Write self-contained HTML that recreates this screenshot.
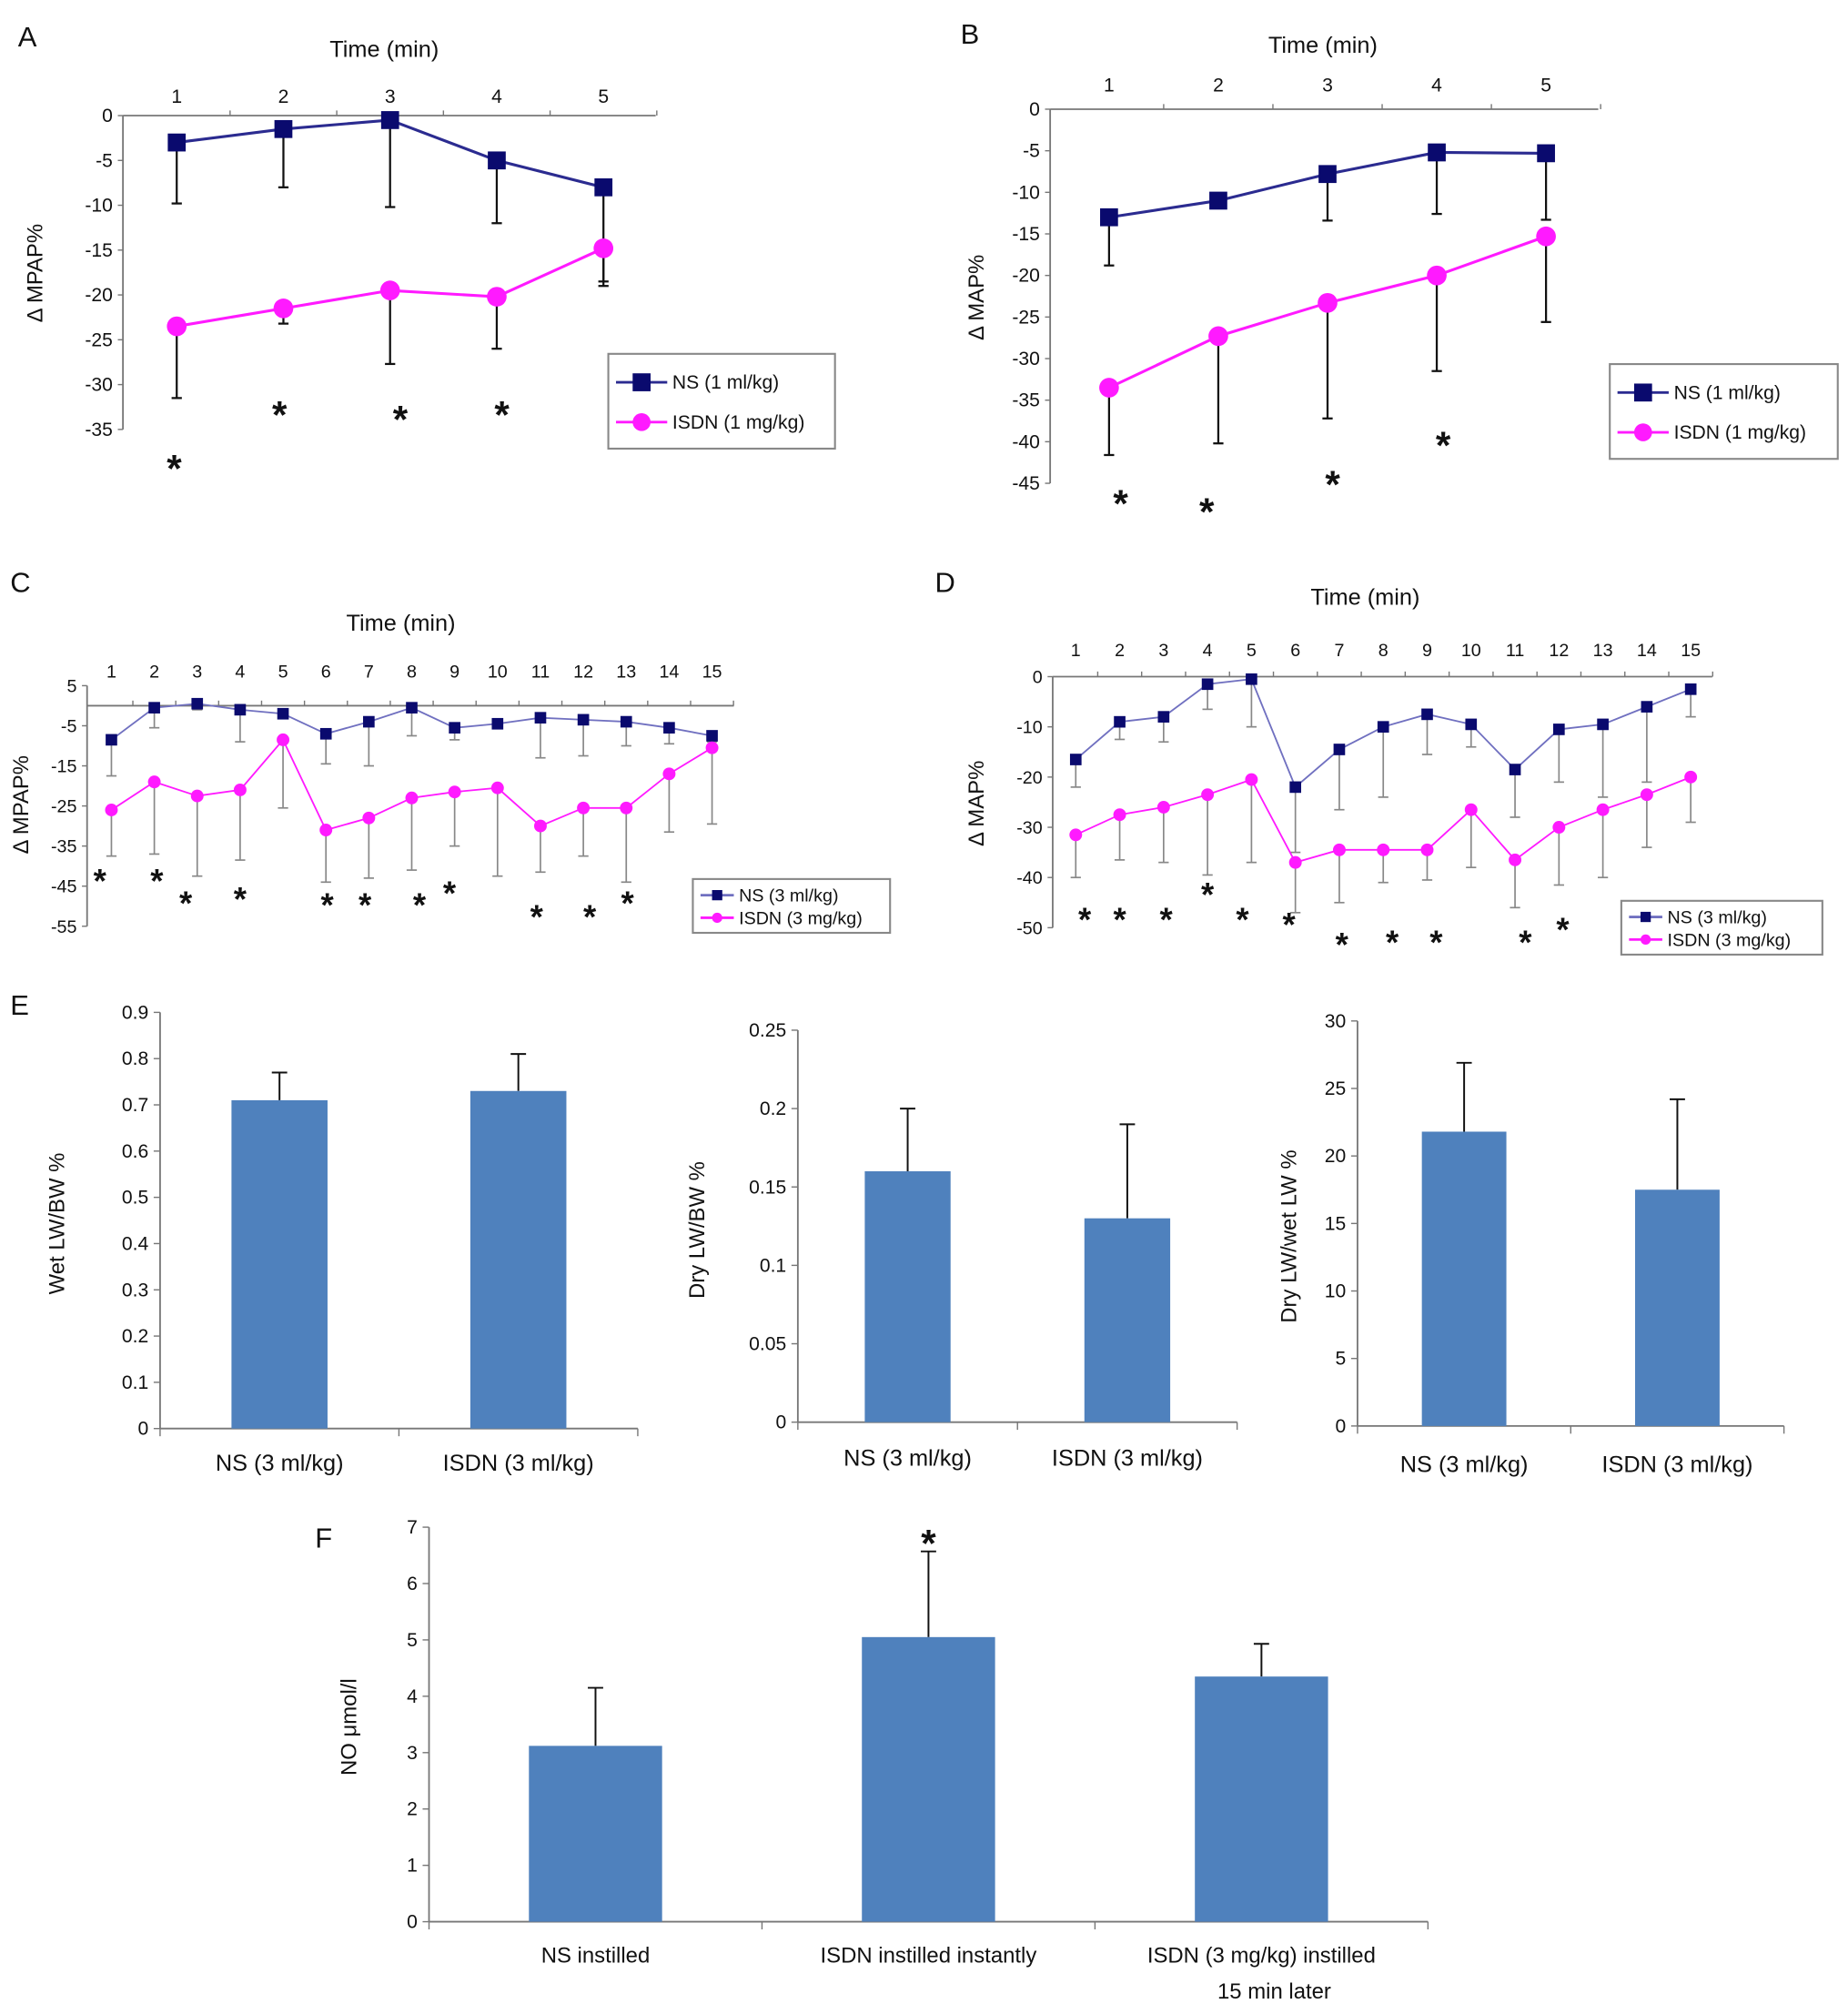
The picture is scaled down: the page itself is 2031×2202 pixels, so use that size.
<!DOCTYPE html>
<html><head><meta charset="utf-8">
<style>
html,body{margin:0;padding:0;background:#fff;}
svg{display:block;font-family:"Liberation Sans",Arial,sans-serif;}
</style></head>
<body>
<svg id="fig" width="2031" height="2202" viewBox="0 0 1443 1564" xmlns="http://www.w3.org/2000/svg"></svg>
<script>
// ---------- DATA ----------
const timesA = [1,2,3,4,5];
const nsA = [-3,-1.5,-0.5,-5,-8];
const nsAErr = [-9.8,-8,-10.2,-12,-18.5];
const isdnA = [-23.5,-21.5,-19.5,-20.2,-14.8];
const isdnAErr = [-31.5,-23.2,-27.7,-26,-19];
const yTicksA = [0,-5,-10,-15,-20,-25,-30,-35];

const timesB = [1,2,3,4,5];
const nsB = [-13,-11,-7.8,-5.2,-5.3];
const nsBErr = [-18.8,-11.6,-13.4,-12.6,-13.3];
const isdnB = [-33.5,-27.3,-23.3,-20,-15.3];
const isdnBErr = [-41.6,-40.2,-37.2,-31.5,-25.6];
const yTicksB = [0,-5,-10,-15,-20,-25,-30,-35,-40,-45];

const timesC = [1,2,3,4,5,6,7,8,9,10,11,12,13,14,15];
const nsC = [-8.5,-0.5,0.5,-1,-2,-7,-4,-0.5,-5.5,-4.5,-3,-3.5,-4,-5.5,-7.5];
const nsCErr = [-17.5,-5.5,-1,-9,-3,-14.5,-15,-7.5,-8.5,-5,-13,-12.5,-10,-9.5,-9];
const isdnC = [-26,-19,-22.5,-21,-8.5,-31,-28,-23,-21.5,-20.5,-30,-25.5,-25.5,-17,-10.5];
const isdnCErr = [-37.5,-37,-42.5,-38.5,-25.5,-44,-43,-41,-35,-42.5,-41.5,-37.5,-44,-31.5,-29.5];
const yTicksC = [5,-5,-15,-25,-35,-45,-55];
const starsC = [1,2,3,4,6,7,8,9,11,12,13];
const starsCY = [-42,-42,-47.5,-46.5,-48,-48,-48,-45,-51,-51,-47.5];

const timesD = [1,2,3,4,5,6,7,8,9,10,11,12,13,14,15];
const nsD = [-16.5,-9,-8,-1.5,-0.5,-22,-14.5,-10,-7.5,-9.5,-18.5,-10.5,-9.5,-6,-2.5];
const nsDErr = [-22,-12.5,-13,-6.5,-10,-35,-26.5,-24,-15.5,-14,-28,-21,-24,-21,-8];
const isdnD = [-31.5,-27.5,-26,-23.5,-20.5,-37,-34.5,-34.5,-34.5,-26.5,-36.5,-30,-26.5,-23.5,-20];
const isdnDErr = [-40,-36.5,-37,-39.5,-37,-47,-45,-41,-40.5,-38,-46,-41.5,-40,-34,-29];
const yTicksD = [0,-10,-20,-30,-40,-50];
const starsD = [1,2,3,4,5,6,7,8,9,11,12];
const starsDY = [-47,-47,-47,-42,-47,-48,-52,-51.5,-51.5,-51.5,-49];

const catsE = ["NS (3 ml/kg)","ISDN (3 ml/kg)"];
const wetE = [0.71,0.73];
const wetEErr = [0.77,0.81];
const wetTicks = [0,0.1,0.2,0.3,0.4,0.5,0.6,0.7,0.8,0.9];
const dryE = [0.16,0.13];
const dryEErr = [0.2,0.19];
const dryTicks = [0,0.05,0.1,0.15,0.2,0.25];
const ratioE = [21.8,17.5];
const ratioEErr = [26.9,24.2];
const ratioTicks = [0,5,10,15,20,25,30];

const catsF = ["NS instilled","ISDN instilled instantly","ISDN (3 mg/kg) instilled|15 min later"];
const noF = [3.12,5.05,4.35];
const noFErr = [4.15,6.57,4.93];
const noTicks = [0,1,2,3,4,5,6,7];

// ---------- HELPERS ----------
const NS = "http://www.w3.org/2000/svg";
const svg = document.getElementById('fig');
function mk(tag, parent){ const e=document.createElementNS(NS,tag); (parent||svg).appendChild(e); return e; }
function set(e,o){ for(const k in o) e.setAttribute(k,o[k]); return e; }
function line(p,x1,y1,x2,y2,stroke,w){ const e=mk('line',p); set(e,{x1,y1,x2,y2,stroke,'stroke-width':w}); return e; }
function text(p,x,y,s,size,anchor,extra){ const e=mk('text',p); set(e,{x,y,'font-size':size,'text-anchor':anchor||'middle',fill:'#111'}); if(extra) set(e,extra); e.textContent=s; return e; }

function letter(s,x,y){
  const t=text(svg,x,y,s,22,'start');
  
  
}

// ---------- LINE PANELS ----------
function linePanel(cfg){
  const g=mk('g');
  
  
  const xs = t => cfg.x1 + (t-1)*cfg.dx;
  const ys = v => cfg.y0 + (cfg.v0 - v)*cfg.pu;
  const ax=line(g,cfg.ax0,cfg.y0,cfg.ax1,cfg.y0,'#777',1.3);
  
  
  const yTop = ys(cfg.yt[0]), yBot = ys(cfg.yt[cfg.yt.length-1]);
  const ay=line(g,cfg.ax0,yTop,cfg.ax0,yBot,'#777',1.3);
  
  
  cfg.times.forEach(t=>{
    const lb=text(g,xs(t),cfg.y0-cfg.tlOff,String(t),cfg.fs);
    
    
    line(g,xs(t)+cfg.dx/2,cfg.y0,xs(t)+cfg.dx/2,cfg.y0-4,'#777',1);
  });
  cfg.yt.forEach(v=>{
    const lb=text(g,cfg.ax0-8,ys(v)+5,String(v),cfg.fs,'end');
    
    
    line(g,cfg.ax0-4,ys(v),cfg.ax0,ys(v),'#777',1);
  });
  const tt=text(g,cfg.ttx,cfg.tty,'Time (min)',18);
  
  
  const yt=text(g,0,0,cfg.ylab,17,'middle',{transform:`translate(${cfg.ylx},${cfg.yly}) rotate(-90)`});
  
  
  // error bars
  const series=[[cfg.isdn,cfg.isdnErr,'isdn'],[cfg.ns,cfg.nsErr,'ns']];
  series.forEach(([vals,errs,nm])=>{
    vals.forEach((v,i)=>{
      const x=xs(cfg.times[i]);
      const e1=line(g,x,ys(v),x,ys(errs[i]),cfg.errColor,cfg.errW);
      
      
      line(g,x-4,ys(errs[i]),x+4,ys(errs[i]),cfg.errColor,cfg.errW);
    });
  });
  // lines and markers
  [[cfg.ns,cfg.nsColor,'ns'],[cfg.isdn,'#ff1aff','isdn']].forEach(([vals,col,nm])=>{
    const pl=mk('polyline',g);
    set(pl,{points:vals.map((v,i)=>xs(cfg.times[i])+','+ys(v)).join(' '),fill:'none',stroke:col,'stroke-width':cfg.lw});
    
    
    vals.forEach((v,i)=>{
      let m;
      if(nm==='ns'){ m=mk('rect',g); set(m,{x:xs(cfg.times[i])-cfg.ms,y:ys(v)-cfg.ms,width:cfg.ms*2,height:cfg.ms*2,fill:'#0a0a6e'}); }
      else { m=mk('circle',g); set(m,{cx:xs(cfg.times[i]),cy:ys(v),r:cfg.ms*1.1,fill:'#ff1aff'}); }
      
      
    });
  });
  // stars
  cfg.stars.forEach((t,i)=>{
    const s=text(g,xs(t)+(cfg.starDx?cfg.starDx[i]:0),ys(cfg.starsY[i])+cfg.starSize*0.55,'*',cfg.starSize,'middle',{'font-weight':'bold'});
    
    
  });
  // legend
  const L=cfg.leg;
  const lg=mk('g',g);
  
  
  const r=mk('rect',lg); set(r,{x:L.x,y:L.y,width:L.w,height:L.h,fill:'#fff',stroke:'#888','stroke-width':1.5});
  const rows=[[cfg.legNS,'ns'],[cfg.legIS,'isdn']];
  rows.forEach(([lab,nm],k)=>{
    const yy=L.y+L.h*(k===0?0.3:0.72);
    const eg=mk('g',lg);
    
    
    line(eg,L.x+6,yy,L.x+6+L.sw,yy,nm==='ns'?cfg.nsColor:'#ff1aff',2);
    if(nm==='ns'){ const m=mk('rect',eg); set(m,{x:L.x+6+L.sw/2-L.m,y:yy-L.m,width:L.m*2,height:L.m*2,fill:'#0a0a6e'}); }
    else { const m=mk('circle',eg); set(m,{cx:L.x+6+L.sw/2,cy:yy,r:L.m,fill:'#ff1aff'}); }
    text(eg,L.x+10+L.sw,yy+5,lab,L.fs,'start');
  });
}

linePanel({id:'a',times:timesA,ns:nsA,nsErr:nsAErr,isdn:isdnA,isdnErr:isdnAErr,yt:yTicksA,
  x1:138,dx:83.3,ax0:96,ax1:512,y0:90,v0:0,pu:7,fs:15,tlOff:10,ttx:300,tty:44,ylab:'Δ MPAP%',ylx:33,yly:213,
  nsColor:'#2b2b90',errColor:'#111',errW:1.6,lw:2.2,ms:7,
  stars:[1,2,3,4],starsY:[-38.5,-32.5,-33,-32.5],starDx:[-2,-3,8,4],starSize:30,
  legNS:'NS (1 ml/kg)',legIS:'ISDN (1 mg/kg)',leg:{x:475,y:276,w:177,h:74,sw:40,m:7,fs:15}});
linePanel({id:'b',times:timesB,ns:nsB,nsErr:nsBErr,isdn:isdnB,isdnErr:isdnBErr,yt:yTicksB,
  x1:866,dx:85.3,ax0:820,ax1:1248,y0:85,v0:0,pu:6.49,fs:15,tlOff:14,ttx:1033,tty:41,ylab:'Δ MAP%',ylx:768,yly:232,
  nsColor:'#2b2b90',errColor:'#111',errW:1.6,lw:2.2,ms:7,
  stars:[1,2,3,4],starsY:[-46.5,-47.5,-44.2,-39.5],starDx:[9,-9,4,5],starSize:30,
  legNS:'NS (1 ml/kg)',legIS:'ISDN (1 mg/kg)',leg:{x:1257,y:284,w:178,h:74,sw:40,m:7,fs:15}});
linePanel({id:'c',times:timesC,ns:nsC,nsErr:nsCErr,isdn:isdnC,isdnErr:isdnCErr,yt:yTicksC,
  x1:87,dx:33.5,ax0:68,ax1:573,y0:550.7,v0:0,pu:3.13,fs:14,tlOff:22,ttx:313,tty:492,ylab:'Δ MPAP%',ylx:22,yly:628,
  nsColor:'#7070c0',errColor:'#888',errW:1.2,lw:1.3,ms:4.5,
  stars:starsC,starsY:starsCY,starDx:[-9,2,-9,0,1,-3,6,-4,-3,5,1],starSize:26,
  legNS:'NS (3 ml/kg)',legIS:'ISDN (3 mg/kg)',leg:{x:541,y:686,w:154,h:42,sw:26,m:4,fs:14}});
linePanel({id:'d',times:timesD,ns:nsD,nsErr:nsDErr,isdn:isdnD,isdnErr:isdnDErr,yt:yTicksD,
  x1:840,dx:34.3,ax0:822,ax1:1337,y0:528,v0:0,pu:3.92,fs:14,tlOff:16,ttx:1066,tty:472,ylab:'Δ MAP%',ylx:768,yly:627,
  nsColor:'#7070c0',errColor:'#888',errW:1.2,lw:1.3,ms:4.5,
  stars:starsD,starsY:starsDY,starDx:[7,0,2,0,-7,-5,2,7,7,8,3],starSize:26,
  legNS:'NS (3 ml/kg)',legIS:'ISDN (3 mg/kg)',leg:{x:1266,y:703,w:157,h:42,sw:26,m:4,fs:14}});

// ---------- BAR PANELS ----------
function barPanel(cfg){
  const g=mk('g');
  
  
  const ys=v=>cfg.y0-(v/cfg.unit)*cfg.pu;
  const top=ys(cfg.ticks[cfg.ticks.length-1]);
  const ay=line(g,cfg.x0,top,cfg.x0,cfg.y0,'#777',1.3);
  
  
  const ax=line(g,cfg.x0,cfg.y0,cfg.x1,cfg.y0,'#777',1.3);
  
  
  cfg.ticks.forEach(v=>{
    line(g,cfg.x0-5,ys(v),cfg.x0,ys(v),'#777',1);
    const t=text(g,cfg.x0-9,ys(v)+5,String(v),cfg.fs,'end');
    
    
  });
  const n=cfg.cats.length, w=(cfg.x1-cfg.x0)/n;
  for(let i=0;i<=n;i++) line(g,cfg.x0+i*w,cfg.y0,cfg.x0+i*w,cfg.y0+6,'#777',1);
  cfg.vals.forEach((v,i)=>{
    const cx=cfg.x0+w*(i+0.5);
    const eb=line(g,cx,ys(v),cx,ys(cfg.err[i]),'#111',1.4);
    
    
    line(g,cx-6,ys(cfg.err[i]),cx+6,ys(cfg.err[i]),'#111',1.4);
    const b=mk('rect',g); set(b,{x:cx-cfg.bw/2,y:ys(v),width:cfg.bw,height:cfg.y0-ys(v),fill:'#4f81bd'});
    
    
    const parts=cfg.cats[i].split('|');
    parts.forEach((p,k)=>{
      const t=text(g,cx+(k?10:0),cfg.ly+k*28,p,cfg.lfs);
      
      
    });
  });
  const yt=text(g,0,0,cfg.ylab,17,'middle',{transform:`translate(${cfg.ylx},${cfg.yly}) rotate(-90)`});
  
  
}
barPanel({id:'e-wet',cats:catsE,vals:wetE,err:wetEErr,ticks:wetTicks,unit:0.1,pu:36.1,x0:125,x1:498,y0:1115,bw:75,fs:15,lfs:18,ly:1148,ylab:'Wet LW/BW %',ylx:50,yly:955});
barPanel({id:'e-dry',cats:catsE,vals:dryE,err:dryEErr,ticks:dryTicks,unit:0.05,pu:61.2,x0:623,x1:966,y0:1110,bw:67,fs:15,lfs:18,ly:1144,ylab:'Dry LW/BW %',ylx:550,yly:960});
barPanel({id:'e-ratio',cats:catsE,vals:ratioE,err:ratioEErr,ticks:ratioTicks,unit:5,pu:52.7,x0:1060,x1:1393,y0:1113,bw:66,fs:15,lfs:18,ly:1149,ylab:'Dry LW/wet LW %',ylx:1012,yly:965});
barPanel({id:'f',cats:catsF,vals:noF,err:noFErr,ticks:noTicks,unit:1,pu:44,x0:335,x1:1115,y0:1500,bw:104,fs:15,lfs:17,ly:1532,ylab:'NO μmol/l',ylx:278,yly:1348});
const sF=text(svg,725,1215,'*',30,'middle',{'font-weight':'bold'});



letter('A',14,36); letter('B',750,34); letter('C',8,462); letter('D',730,462); letter('E',8,792); letter('F',246,1208);
</script>
</body></html>
